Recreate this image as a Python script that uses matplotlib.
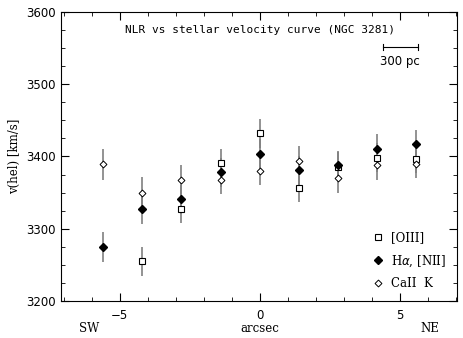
import matplotlib.pyplot as plt

# positions along the slit (arcsec)
oiii_x = [-4.2, -2.8, -1.4, 0.0, 1.4, 2.8, 4.2, 5.6]
oiii_v = [3255, 3328, 3391, 3432, 3357, 3386, 3398, 3397]
oiii_err = [20, 20, 20, 20, 20, 20, 20, 20]

ha_x = [-5.6, -4.2, -2.8, -1.4, 0.0, 1.4, 2.8, 4.2, 5.6]
ha_v = [3275, 3328, 3341, 3378, 3404, 3381, 3388, 3411, 3417]
ha_err = [21, 21, 20, 20, 20, 20, 20, 20, 20]

ca_x = [-5.6, -4.2, -2.8, -1.4, 0.0, 1.4, 2.8, 4.2, 5.6]
ca_v = [3389, 3350, 3368, 3368, 3380, 3394, 3370, 3388, 3390]
ca_err = [21, 21, 20, 20, 20, 20, 20, 20, 20]

fig = plt.figure(figsize=(4.64, 3.38), dpi=100)
ax = fig.add_axes([0.1315, 0.1095, 0.8535, 0.855])

grey = "#808080"
ax.errorbar(oiii_x, oiii_v, yerr=oiii_err, fmt="none", ecolor=grey, elinewidth=1.2, capsize=0)
ax.errorbar(ha_x, ha_v, yerr=ha_err, fmt="none", ecolor=grey, elinewidth=1.2, capsize=0)
ax.errorbar(ca_x, ca_v, yerr=ca_err, fmt="none", ecolor=grey, elinewidth=1.2, capsize=0)

ax.plot(oiii_x, oiii_v, "s", ms=4.5, mfc="white", mec="black", mew=0.8, ls="none", label="[OIII]")
ax.plot(ha_x, ha_v, "D", ms=4, mfc="black", mec="black", ls="none", label=r"H$\alpha$, [NII]")
ax.plot(ca_x, ca_v, "D", ms=3.5, mfc="white", mec="black", mew=0.7, ls="none", label="CaII  K")

ax.set_xlim(-7.1, 7.05)
ax.set_ylim(3200, 3600)
ax.set_xticks([-5, 0, 5])
ax.set_xticks(range(-7, 8), minor=True)
ax.set_yticks([3200, 3300, 3400, 3500, 3600])
ax.set_yticks(range(3200, 3601, 25), minor=True)
ax.tick_params(which="both", direction="in", top=True, right=True, labelsize=8.5)
ax.tick_params(which="major", length=6)
ax.tick_params(which="minor", length=3)
ax.tick_params(axis="x", pad=6)

ax.set_ylabel("v(hel) [km/s]", family="serif", fontsize=8.5)
ax.text(0, 3600 - 18 / 0.7225, "NLR vs stellar velocity curve (NGC 3281)",
        ha="center", va="center", family="monospace", fontsize=8)

# 300 pc scale bar
ax.plot([4.4, 5.65], [3552, 3552], color="black", lw=0.8)
ax.plot([4.4, 4.4], [3548, 3556], color="black", lw=0.8)
ax.plot([5.65, 5.65], [3548, 3556], color="black", lw=0.8)
ax.text(5.0, 3531, "300 pc", ha="center", va="center", fontsize=8.5)

fig.text(89 / 464, 1 - 328 / 338, "SW", ha="center", va="center", family="serif", fontsize=8.5)
fig.text(260 / 464, 1 - 328 / 338, "arcsec", ha="center", va="center", family="serif", fontsize=8.5)
fig.text(430 / 464, 1 - 328 / 338, "NE", ha="center", va="center", family="serif", fontsize=8.5)

ax.legend(loc="lower right", frameon=False, handletextpad=0.3, handlelength=1.6,
          labelspacing=0.75, bbox_to_anchor=(1.0, 0.0), prop={"family": "serif", "size": 8.5})

fig.savefig("out.png", dpi=100)
